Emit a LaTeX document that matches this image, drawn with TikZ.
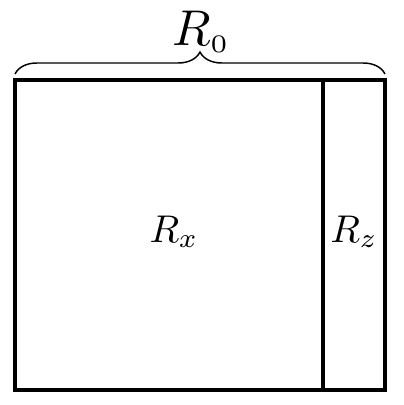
\documentclass[tikz,border=0pt]{standalone}
\usepackage{amsmath}
\usepackage{tikz}
\usetikzlibrary{decorations.pathreplacing,positioning}

\tikzset{
  blockline/.style={line width=2.6pt},
  bracestyle/.style={line width=1.1pt, decorate, decoration={brace, amplitude=16.5pt}},
  biglabel/.style={scale=2.9, inner sep=0pt, anchor=base},
}

\begin{document}
\begin{tikzpicture}[x=0.75pt,y=-0.75pt]
    \useasboundingbox (0,0) rectangle (404,405);

    % Whole block R_0
    \coordinate (tl) at (15,80);
    \coordinate (br) at (385,390);
    \draw[blockline] (tl) rectangle (br);

    % Split between R_x and R_z
    \coordinate (splittop) at (323,80);
    \coordinate (splitbot) at (323,390);
    \draw[blockline] (splittop) -- (splitbot);

    % Labels of the two parts
    \node[biglabel] (rx) at (174,242) {$R_x$};
    \node[biglabel] (rz) at (354,242) {$R_z$};

    % Brace over the whole width
    \coordinate (bl) at (15,74);
    \coordinate (bri) at (385,74);
    \draw[bracestyle] (bl) -- (bri);
    \node[biglabel, scale=1.3] (r0) at (201,45) {$R_{\scriptscriptstyle 0}$};
\end{tikzpicture}
\end{document}
